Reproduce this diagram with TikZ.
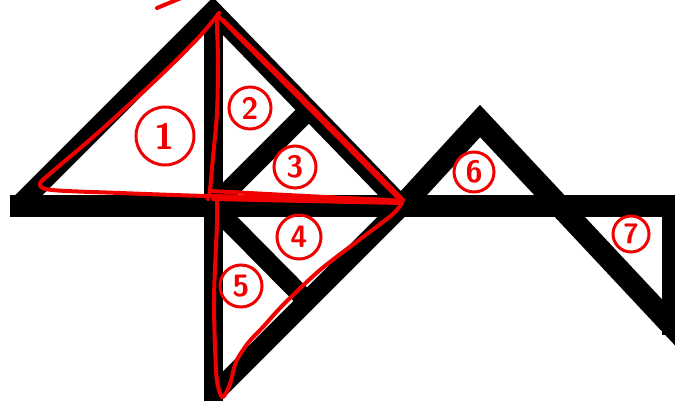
\documentclass[tikz,border=0pt]{standalone}
\usepackage{tikz}
\usetikzlibrary{calc}
\definecolor{cink}{RGB}{0,0,0}
\definecolor{cred}{RGB}{240,0,0}

\begin{document}
\begin{tikzpicture}[x=0.025cm, y=-0.025cm,
  bar/.style={draw=cink, line width=0.525cm, line cap=butt},
  ink/.style={draw=cink, line width=0.48cm, line join=miter, line cap=butt},
  pen/.style={draw=cred, line width=0.1cm, line cap=round, line join=round},
  ring/.style={circle, draw=cred, line width=0.075cm, text=cred, inner sep=0pt,
               font=\sffamily\bfseries\fontsize{22}{22}\selectfont}]
\useasboundingbox (0,0) rectangle (675,400);

% black figure
\coordinate (top)   at (213,11);
\coordinate (lft)   at (18,206);
\coordinate (mid)   at (213,206);
\coordinate (cross) at (402,206);
\coordinate (up)    at (309,110);
\coordinate (dn)    at (307,301);
\coordinate (low)   at (213,395);
\coordinate (foot)  at (213,406);
\coordinate (peak)  at (480,121);
\coordinate (tail)  at (700,356);
\coordinate (barL)  at (10,206);
\coordinate (barR)  at (690,206);
\coordinate (edgeT) at (670,206);
\coordinate (edgeB) at (670,335);

\draw[bar] (barL) -- (barR);
\draw[ink, line width=0.475cm] (top) -- (foot);
\draw[ink] (lft) -- (top) -- (cross);
\draw[ink] (mid) -- (up);
\draw[ink] (mid) -- (dn);
\draw[ink] (cross) -- (low);
\draw[ink, line width=0.55cm] (cross) -- (peak) -- (tail);
\draw[ink, line width=0.4cm] (edgeT) -- (edgeB);

% red outlines
\draw[pen] plot[smooth, tension=0.5] coordinates {(219,13) (200,36) (160,76) (100,131) (52,172) (40,184) (52,190) (120,193) (208,196) (340,198) (402,201)};
\draw[pen] plot[smooth, tension=0.5] coordinates {(219,13) (217,22) (218,60) (217,113) (213,157) (210,190) (208,199)};
\draw[pen] (210,191) -- (402,201);
\draw[pen] (218,16) -- (402,202);
\draw[pen] (223,20) .. controls (300,95) .. (403,200);
\draw[pen] plot[smooth, tension=0.5] coordinates {(217,197) (217,223) (214,300) (216,370) (219,390) (223,397) (230,384) (236,362) (248,343) (263,327) (283,305) (320,270) (363,237) (393,214) (402,203)};
\draw[pen] (402,203) -- (213,199);
\draw[pen] (157,8) -- (186,-4);

% numbers
\node[ring, minimum size=1.45cm, font=\sffamily\bfseries\fontsize{26}{26}\selectfont] (c1) at (165,136) {1};
\node[ring, minimum size=1.05cm] (c2) at (250,108) {2};
\node[ring, minimum size=1.05cm] (c3) at (295,167) {3};
\node[ring, minimum size=1.1cm]  (c4) at (299,237) {4};
\node[ring, minimum size=1.05cm] (c5) at (241,286) {5};
\node[ring, minimum size=1.0cm]  (c6) at (474,172) {6};
\node[ring, minimum size=0.9cm, font=\sffamily\bfseries\fontsize{20}{20}\selectfont] (c7) at (631,234) {7};
\end{tikzpicture}
\end{document}
